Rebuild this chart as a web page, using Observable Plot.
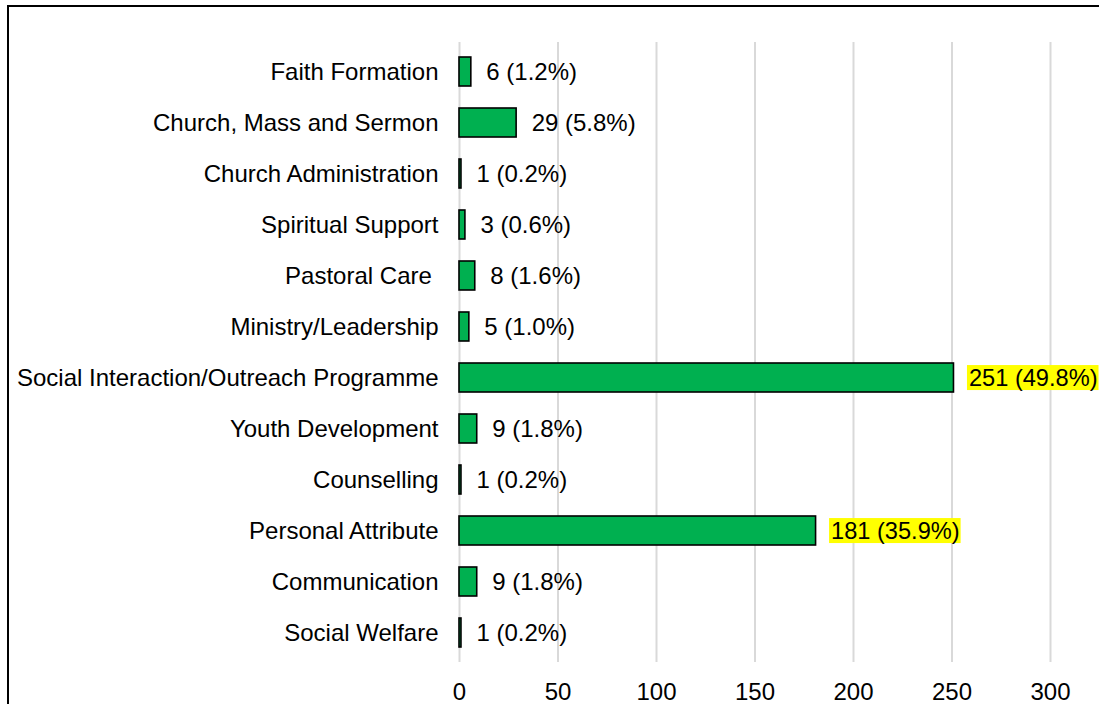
<!DOCTYPE html>
<html>
<head>
<meta charset="utf-8">
<script src="https://cdn.jsdelivr.net/npm/d3@7"></script>
<script src="https://cdn.jsdelivr.net/npm/@observablehq/plot@0.6"></script>
<style>
  html, body { margin: 0; padding: 0; background: #fff; overflow: hidden; }
  #wrap { position: relative; width: 1099px; height: 704px; overflow: hidden; }
  #border { position: absolute; left: 6.5px; top: 4.5px; width: 1200px; height: 800px; border: 2.5px solid #000; box-sizing: border-box; pointer-events: none; }
  #chart { position: absolute; left: 0; top: 0; }
  #chart svg, #chart svg text { font-family: "Liberation Sans", Arial, sans-serif; }
</style>
</head>
<body>
<div id="wrap">
  <div id="chart"></div>
  <div id="border"></div>
</div>
<script>
const categories = [
  "Faith Formation",
  "Church, Mass and Sermon",
  "Church Administration",
  "Spiritual Support",
  "Pastoral Care\u00a0",
  "Ministry/Leadership",
  "Social Interaction/Outreach Programme",
  "Youth Development",
  "Counselling",
  "Personal Attribute",
  "Communication",
  "Social Welfare"
];
const counts = [6, 29, 1, 3, 8, 5, 251, 9, 1, 181, 9, 1];
const percents = ["1.2%", "5.8%", "0.2%", "0.6%", "1.6%", "1.0%", "49.8%", "1.8%", "0.2%", "35.9%", "1.8%", "0.2%"];
const highlighted = ["Social Interaction/Outreach Programme", "Personal Attribute"];
const xTicks = [0, 50, 100, 150, 200, 250, 300];

const data = categories.map((c, i) => ({
  category: c,
  value: counts[i],
  label: `${counts[i]} (${percents[i]})`,
  hi: highlighted.includes(c)
}));
const hiLabels = data.filter(d => d.hi).map(d => d.label);

const font = "'Liberation Sans', Arial, sans-serif";
const fs = 24;

const chart = Plot.plot({
  width: 1099,
  height: 704,
  marginLeft: 459,
  marginRight: 49,
  marginTop: 42,
  marginBottom: 42,
  style: { fontFamily: font, fontSize: fs + "px", color: "#000", background: "transparent" },
  x: { domain: [0, 300], ticks: xTicks, label: null, grid: false },
  y: { domain: categories, paddingInner: 0.43, paddingOuter: 0.215, label: null },
  marks: [
    Plot.gridX(xTicks, { stroke: "#d9d9d9", strokeOpacity: 1, strokeWidth: 2 }),
    Plot.axisX({ ticks: xTicks, tickSize: 0, tickPadding: 20, fontSize: fs, label: null }),
    Plot.axisY({ tickSize: 0, tickPadding: 21, fontSize: fs, label: null }),
    Plot.barX(data, { y: "category", x: "value", fill: "#00B050", stroke: "#000", strokeWidth: 1.6 }),
    Plot.text(data, { y: "category", x: "value", text: "label", textAnchor: "start", dx: 15, fontSize: d => d.hi ? 23.6 : fs, fill: "#000" })
  ]
});

document.getElementById("chart").appendChild(chart);

// yellow highlight boxes behind the highlighted labels
d3.select(chart).selectAll("text").each(function () {
  if (!hiLabels.includes(this.textContent)) return;
  const b = this.getBBox();
  const t = this.getAttribute("transform");
  const rect = document.createElementNS("http://www.w3.org/2000/svg", "rect");
  rect.setAttribute("x", b.x - 2);
  rect.setAttribute("y", b.y + 0.5);
  rect.setAttribute("width", b.width + 3);
  rect.setAttribute("height", b.height - 1);
  rect.setAttribute("fill", "#FFFF00");
  if (t) rect.setAttribute("transform", t);
  this.parentNode.insertBefore(rect, this);
});
</script>
</body>
</html>
